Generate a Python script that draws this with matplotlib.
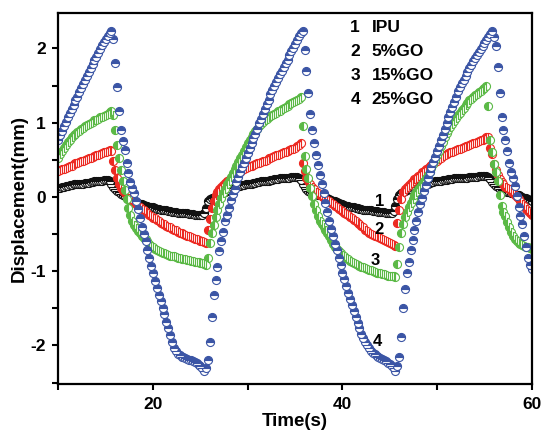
import numpy as np
import matplotlib
matplotlib.use("Agg")
import matplotlib.pyplot as plt

plt.rcParams['font.family'] = ['Liberation Sans', 'DejaVu Sans']
plt.rcParams['font.weight'] = 'bold'

# Sampling times (s), one reading every 0.2 s from 10 s to 60 s
time_s = np.round(np.arange(10.0, 60.01, 0.2), 1)

# Displacement (mm), 10 readings per row (each row = 2 s)
ipu = [
    0.12, 0.12, 0.13, 0.14, 0.15, 0.15, 0.16, 0.16, 0.17, 0.17,
    0.17, 0.18, 0.18, 0.18, 0.19, 0.19, 0.19, 0.20, 0.20, 0.21,
    0.21, 0.21, 0.22, 0.22, 0.23, 0.23, 0.23, 0.21, 0.17, 0.13,
    0.10, 0.08, 0.06, 0.04, 0.02, 0.01, -0.01, -0.03, -0.04, -0.05,
    -0.06, -0.07, -0.08, -0.09, -0.10, -0.11, -0.12, -0.12, -0.13, -0.14,
    -0.14, -0.15, -0.16, -0.16, -0.17, -0.17, -0.18, -0.18, -0.19, -0.19,
    -0.20, -0.20, -0.20, -0.21, -0.21, -0.21, -0.22, -0.22, -0.22, -0.23,
    -0.23, -0.23, -0.24, -0.24, -0.24, -0.25, -0.25, -0.22, -0.15, -0.06,
    -0.03, -0.02, -0.01, 0.00, 0.01, 0.02, 0.04, 0.05, 0.06, 0.08,
    0.09, 0.10, 0.12, 0.13, 0.14, 0.15, 0.15, 0.16, 0.16, 0.17,
    0.17, 0.18, 0.18, 0.19, 0.19, 0.20, 0.20, 0.21, 0.21, 0.22,
    0.22, 0.22, 0.23, 0.23, 0.24, 0.24, 0.24, 0.25, 0.25, 0.25,
    0.26, 0.26, 0.26, 0.27, 0.27, 0.27, 0.27, 0.26, 0.23, 0.17,
    0.13, 0.10, 0.08, 0.07, 0.06, 0.05, 0.04, 0.03, 0.02, 0.01,
    0.00, -0.01, -0.02, -0.03, -0.04, -0.05, -0.06, -0.07, -0.08, -0.09,
    -0.10, -0.11, -0.12, -0.12, -0.13, -0.14, -0.14, -0.15, -0.15, -0.16,
    -0.16, -0.17, -0.17, -0.18, -0.18, -0.18, -0.19, -0.19, -0.19, -0.20,
    -0.20, -0.20, -0.20, -0.21, -0.21, -0.21, -0.21, -0.19, -0.12, -0.03,
    0.02, 0.05, 0.07, 0.08, 0.09, 0.10, 0.11, 0.12, 0.13, 0.14,
    0.15, 0.16, 0.16, 0.17, 0.18, 0.18, 0.19, 0.20, 0.20, 0.21,
    0.21, 0.22, 0.22, 0.23, 0.23, 0.23, 0.24, 0.24, 0.24, 0.25,
    0.25, 0.25, 0.25, 0.26, 0.26, 0.26, 0.26, 0.27, 0.27, 0.27,
    0.27, 0.27, 0.28, 0.28, 0.28, 0.28, 0.28, 0.27, 0.24, 0.20,
    0.17, 0.15, 0.13, 0.11, 0.10, 0.09, 0.08, 0.07, 0.06, 0.05,
    0.05, 0.04, 0.03, 0.02, 0.01, 0.00, -0.01, -0.02, -0.03, -0.04,
    -0.05,
]

go_5 = [
    0.35, 0.36, 0.37, 0.38, 0.39, 0.40, 0.41, 0.42, 0.44, 0.45,
    0.46, 0.47, 0.48, 0.49, 0.50, 0.51, 0.52, 0.53, 0.54, 0.55,
    0.56, 0.57, 0.58, 0.59, 0.60, 0.61, 0.62, 0.63, 0.62, 0.48,
    0.36, 0.25, 0.17, 0.12, 0.08, 0.05, 0.02, -0.01, -0.03, -0.05,
    -0.07, -0.10, -0.12, -0.14, -0.16, -0.18, -0.20, -0.22, -0.24, -0.26,
    -0.28, -0.29, -0.31, -0.33, -0.35, -0.36, -0.37, -0.39, -0.40, -0.41,
    -0.43, -0.44, -0.45, -0.47, -0.48, -0.49, -0.50, -0.51, -0.52, -0.53,
    -0.54, -0.55, -0.56, -0.57, -0.58, -0.59, -0.60, -0.61, -0.62, -0.45,
    -0.30, -0.15, -0.05, 0.02, 0.06, 0.10, 0.13, 0.16, 0.19, 0.21,
    0.23, 0.25, 0.27, 0.29, 0.31, 0.33, 0.34, 0.36, 0.37, 0.39,
    0.40, 0.41, 0.42, 0.43, 0.44, 0.45, 0.46, 0.47, 0.48, 0.49,
    0.50, 0.52, 0.53, 0.54, 0.55, 0.56, 0.57, 0.58, 0.59, 0.60,
    0.61, 0.62, 0.63, 0.64, 0.65, 0.66, 0.68, 0.70, 0.72, 0.45,
    0.35, 0.26, 0.21, 0.17, 0.13, 0.10, 0.07, 0.05, 0.03, 0.01,
    -0.01, -0.03, -0.04, -0.06, -0.08, -0.10, -0.12, -0.14, -0.16, -0.17,
    -0.19, -0.21, -0.23, -0.25, -0.27, -0.29, -0.31, -0.33, -0.35, -0.37,
    -0.39, -0.41, -0.44, -0.46, -0.48, -0.50, -0.51, -0.52, -0.53, -0.54,
    -0.55, -0.56, -0.58, -0.59, -0.61, -0.62, -0.64, -0.65, -0.66, -0.35,
    -0.18, -0.03, 0.06, 0.10, 0.13, 0.16, 0.19, 0.22, 0.24, 0.26,
    0.28, 0.30, 0.33, 0.35, 0.37, 0.39, 0.41, 0.43, 0.45, 0.47,
    0.49, 0.51, 0.53, 0.55, 0.57, 0.58, 0.59, 0.60, 0.61, 0.62,
    0.63, 0.64, 0.65, 0.66, 0.67, 0.68, 0.69, 0.70, 0.71, 0.72,
    0.73, 0.74, 0.75, 0.76, 0.77, 0.78, 0.80, 0.80, 0.66, 0.58,
    0.44, 0.36, 0.29, 0.24, 0.20, 0.17, 0.14, 0.12, 0.10, 0.08,
    0.05, 0.03, 0.00, -0.03, -0.06, -0.09, -0.12, -0.16, -0.19, -0.22,
    -0.25,
]

go_15 = [
    0.53, 0.58, 0.62, 0.66, 0.70, 0.74, 0.77, 0.80, 0.83, 0.85,
    0.87, 0.89, 0.91, 0.93, 0.95, 0.97, 0.98, 1.00, 1.01, 1.03,
    1.04, 1.05, 1.07, 1.08, 1.09, 1.10, 1.12, 1.14, 1.16, 1.10,
    0.90, 0.70, 0.52, 0.36, 0.22, 0.09, -0.03, -0.15, -0.24, -0.32,
    -0.38, -0.42, -0.46, -0.49, -0.52, -0.55, -0.57, -0.60, -0.63, -0.66,
    -0.68, -0.70, -0.72, -0.73, -0.74, -0.75, -0.76, -0.77, -0.78, -0.79,
    -0.80, -0.80, -0.81, -0.82, -0.82, -0.83, -0.84, -0.84, -0.85, -0.85,
    -0.86, -0.86, -0.87, -0.87, -0.88, -0.89, -0.89, -0.90, -0.91, -0.82,
    -0.62, -0.49, -0.38, -0.27, -0.17, -0.09, -0.02, 0.05, 0.11, 0.17,
    0.22, 0.27, 0.32, 0.37, 0.42, 0.47, 0.52, 0.57, 0.62, 0.67,
    0.72, 0.77, 0.81, 0.85, 0.89, 0.92, 0.95, 0.98, 1.01, 1.03,
    1.05, 1.07, 1.09, 1.10, 1.12, 1.13, 1.15, 1.16, 1.18, 1.20,
    1.21, 1.23, 1.25, 1.26, 1.28, 1.29, 1.31, 1.32, 1.34, 0.95,
    0.55, 0.38, 0.25, 0.12, 0.01, -0.09, -0.18, -0.26, -0.32, -0.37,
    -0.41, -0.45, -0.49, -0.53, -0.58, -0.63, -0.67, -0.70, -0.73, -0.76,
    -0.78, -0.80, -0.82, -0.84, -0.86, -0.87, -0.89, -0.90, -0.91, -0.93,
    -0.94, -0.95, -0.96, -0.97, -0.98, -0.99, -1.00, -1.01, -1.02, -1.02,
    -1.03, -1.04, -1.04, -1.05, -1.06, -1.06, -1.07, -1.07, -1.08, -0.90,
    -0.68, -0.48, -0.36, -0.27, -0.20, -0.14, -0.08, -0.03, 0.02, 0.06,
    0.10, 0.14, 0.18, 0.22, 0.26, 0.30, 0.34, 0.39, 0.44, 0.50,
    0.56, 0.62, 0.68, 0.74, 0.80, 0.86, 0.90, 0.94, 0.98, 1.02,
    1.06, 1.10, 1.13, 1.17, 1.20, 1.24, 1.27, 1.30, 1.32, 1.35,
    1.37, 1.39, 1.41, 1.43, 1.45, 1.47, 1.49, 1.22, 0.76, 0.60,
    0.44, 0.34, 0.21, 0.02, -0.12, -0.20, -0.26, -0.34, -0.41, -0.47,
    -0.52, -0.56, -0.60, -0.62, -0.64, -0.65, -0.66, -0.67, -0.68, -0.69,
    -0.70,
]

go_25 = [
    0.77, 0.83, 0.89, 0.95, 1.01, 1.07, 1.13, 1.18, 1.24, 1.30,
    1.35, 1.41, 1.46, 1.52, 1.57, 1.63, 1.68, 1.73, 1.79, 1.84,
    1.89, 1.94, 1.99, 2.04, 2.08, 2.13, 2.17, 2.21, 2.23, 2.12,
    1.80, 1.48, 1.15, 0.90, 0.75, 0.63, 0.46, 0.32, 0.20, 0.12,
    0.05, -0.05, -0.16, -0.28, -0.40, -0.50, -0.60, -0.71, -0.82, -0.93,
    -1.03, -1.13, -1.23, -1.32, -1.40, -1.49, -1.58, -1.68, -1.77, -1.86,
    -1.95, -2.03, -2.08, -2.11, -2.13, -2.15, -2.16, -2.17, -2.18, -2.19,
    -2.20, -2.21, -2.22, -2.24, -2.26, -2.28, -2.31, -2.35, -2.30, -2.19,
    -1.96, -1.62, -1.32, -1.12, -0.94, -0.73, -0.60, -0.47, -0.33, -0.24,
    -0.15, -0.04, 0.04, 0.11, 0.20, 0.27, 0.34, 0.40, 0.46, 0.53,
    0.59, 0.66, 0.72, 0.79, 0.85, 0.92, 0.99, 1.05, 1.12, 1.19,
    1.25, 1.31, 1.38, 1.44, 1.50, 1.55, 1.60, 1.65, 1.70, 1.75,
    1.80, 1.85, 1.91, 1.96, 2.01, 2.06, 2.11, 2.16, 2.21, 2.23,
    1.98, 1.70, 1.40, 1.12, 0.90, 0.72, 0.56, 0.43, 0.30, 0.18,
    0.05, -0.08, -0.20, -0.32, -0.43, -0.53, -0.63, -0.72, -0.82, -0.92,
    -1.02, -1.11, -1.20, -1.29, -1.38, -1.46, -1.54, -1.62, -1.70, -1.77,
    -1.84, -1.90, -1.95, -1.99, -2.04, -2.07, -2.10, -2.12, -2.14, -2.16,
    -2.17, -2.18, -2.20, -2.21, -2.23, -2.25, -2.27, -2.30, -2.35, -2.28,
    -2.15, -1.88, -1.50, -1.24, -1.03, -0.87, -0.72, -0.58, -0.44, -0.32,
    -0.20, -0.10, -0.01, 0.08, 0.16, 0.25, 0.33, 0.40, 0.47, 0.54,
    0.62, 0.69, 0.76, 0.83, 0.91, 0.99, 1.07, 1.14, 1.21, 1.28,
    1.35, 1.42, 1.48, 1.53, 1.58, 1.63, 1.68, 1.73, 1.78, 1.83,
    1.87, 1.91, 1.95, 1.99, 2.03, 2.07, 2.11, 2.15, 2.19, 2.23,
    2.15, 2.03, 1.75, 1.40, 1.08, 0.90, 0.77, 0.62, 0.46, 0.34,
    0.26, 0.15, 0.01, -0.14, -0.26, -0.37, -0.52, -0.67, -0.82, -0.91,
    -0.97,
]

series = [ipu, go_5, go_15, go_25]
numbers = ['1', '2', '3', '4']
names = ['IPU', '5%GO', '15%GO', '25%GO']
colors = ['#111111', '#EC2A22', '#5BB946', '#3B55A5']
fills = ['top', 'left', 'left', 'top']

# curve numbers written next to the middle trough
label_x = [43.9, 43.9, 43.5, 43.7]
label_y = [-0.06, -0.44, -0.85, -1.94]

fig = plt.figure(figsize=(5.41, 4.34), dpi=100)
ax = fig.add_axes([0.108, 0.115, 0.875, 0.854])

# draw each sample with a half-filled circle like the original
for vals, col, fs in zip(series, colors, fills):
    ax.plot(time_s, vals, linestyle='none', marker='o', markersize=5.8,
            fillstyle=fs, markerfacecolor=col, markerfacecoloralt='white',
            markeredgecolor=col, markeredgewidth=0.8)

# number labels on the curves
for n, lx, ly in zip(numbers, label_x, label_y):
    ax.text(lx, ly, n, fontsize=12, fontweight='bold', ha='center', va='center')

# legend written as plain text in the top middle
for i, (n, name) in enumerate(zip(numbers, names)):
    yy = 0.962 - i * 0.065
    ax.text(0.637, yy, n, transform=ax.transAxes, fontsize=12.5,
            fontweight='bold', ha='right', va='center')
    ax.text(0.662, yy, name, transform=ax.transAxes, fontsize=12.5,
            fontweight='bold', ha='left', va='center')

ax.set_xlim(10, 60)
ax.set_ylim(-2.52, 2.47)

# ticks every 10 s / 0.5 mm, labels only on every other one
ax.set_xticks([10, 20, 30, 40, 50, 60])
ax.set_xticklabels(['', '20', '', '40', '', '60'])
ax.set_yticks([-2.5, -2, -1.5, -1, -0.5, 0, 0.5, 1, 1.5, 2])
ax.set_yticklabels(['', '-2', '', '-1', '', '0', '', '1', '', '2'])
ax.tick_params(direction='out', length=4, width=1.5, labelsize=12.5, pad=5)

for sp in ax.spines.values():
    sp.set_linewidth(1.6)

ax.set_xlabel('Time(s)', fontsize=13.5, fontweight='bold', labelpad=1)
ax.set_ylabel('Displacement(mm)', fontsize=13.5, fontweight='bold', labelpad=2)

fig.savefig('out.png', dpi=100)
